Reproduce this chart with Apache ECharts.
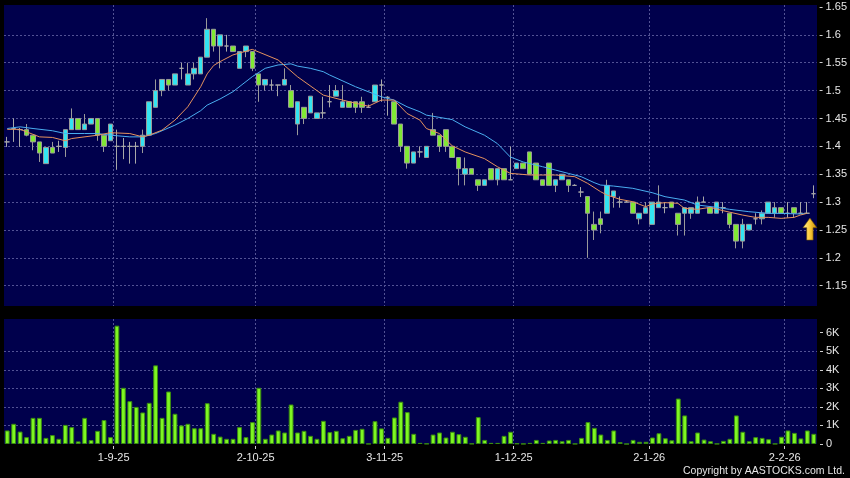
<!DOCTYPE html>
<html><head><meta charset="utf-8">
<script src="https://cdn.jsdelivr.net/npm/echarts@6/dist/echarts.min.js"></script>
<style>html,body{margin:0;padding:0;background:#000;}#c{width:850px;height:478px;}</style>
</head><body><div id="c"></div>
<script>
// [open, close, low, high]
const ohlc = [
[1.408,1.408,1.399,1.417],[1.432,1.432,1.408,1.450],[1.430,1.430,1.399,1.433],[1.430,1.420,1.418,1.440],
[1.420,1.408,1.393,1.420],[1.408,1.388,1.372,1.408],[1.369,1.398,1.369,1.398],[1.398,1.388,1.388,1.408],
[1.400,1.400,1.390,1.410],[1.398,1.430,1.381,1.430],[1.430,1.450,1.430,1.468],[1.450,1.430,1.430,1.450],
[1.430,1.440,1.430,1.458],[1.440,1.450,1.440,1.450],[1.450,1.420,1.410,1.450],[1.420,1.400,1.390,1.420],
[1.410,1.440,1.410,1.440],[1.400,1.400,1.358,1.430],[1.400,1.400,1.377,1.415],[1.400,1.400,1.369,1.408],
[1.400,1.400,1.369,1.408],[1.400,1.420,1.388,1.430],[1.420,1.480,1.420,1.480],[1.470,1.500,1.470,1.520],
[1.500,1.520,1.490,1.520],[1.520,1.510,1.500,1.520],[1.510,1.530,1.510,1.530],[1.540,1.540,1.520,1.550],
[1.510,1.530,1.510,1.550],[1.530,1.540,1.520,1.550],[1.530,1.560,1.530,1.560],[1.560,1.610,1.560,1.630],
[1.610,1.580,1.570,1.610],[1.580,1.600,1.540,1.600],[1.580,1.580,1.570,1.600],[1.580,1.570,1.570,1.580],
[1.540,1.570,1.540,1.570],[1.570,1.580,1.560,1.580],[1.570,1.540,1.535,1.570],[1.530,1.510,1.480,1.530],
[1.510,1.520,1.500,1.520],[1.510,1.510,1.500,1.520],[1.510,1.510,1.490,1.510],[1.510,1.520,1.510,1.540],
[1.500,1.470,1.470,1.510],[1.440,1.480,1.420,1.480],[1.470,1.450,1.440,1.470],[1.460,1.490,1.460,1.490],
[1.450,1.460,1.450,1.460],[1.460,1.460,1.450,1.489],[1.480,1.480,1.470,1.510],[1.490,1.500,1.490,1.510],
[1.470,1.480,1.470,1.510],[1.480,1.470,1.470,1.480],[1.480,1.470,1.460,1.480],[1.480,1.470,1.460,1.489],
[1.470,1.470,1.470,1.475],[1.480,1.510,1.480,1.510],[1.510,1.510,1.480,1.520],[1.488,1.488,1.455,1.490],
[1.480,1.440,1.440,1.480],[1.440,1.400,1.390,1.440],[1.400,1.370,1.360,1.400],[1.370,1.390,1.370,1.390],
[1.390,1.390,1.380,1.400],[1.380,1.400,1.380,1.400],[1.430,1.420,1.420,1.460],[1.420,1.400,1.390,1.420],
[1.430,1.400,1.390,1.430],[1.400,1.380,1.380,1.400],[1.380,1.360,1.330,1.380],[1.350,1.360,1.330,1.380],
[1.360,1.350,1.350,1.360],[1.340,1.330,1.320,1.340],[1.330,1.340,1.330,1.340],[1.360,1.340,1.340,1.360],
[1.340,1.360,1.330,1.360],[1.360,1.340,1.340,1.360],[1.340,1.340,1.340,1.400],[1.360,1.370,1.360,1.370],
[1.370,1.360,1.360,1.370],[1.390,1.350,1.350,1.390],[1.370,1.340,1.340,1.370],[1.340,1.330,1.330,1.340],
[1.370,1.330,1.330,1.370],[1.330,1.340,1.318,1.340],[1.340,1.350,1.340,1.350],[1.340,1.330,1.318,1.340],
[1.330,1.330,1.330,1.332],[1.318,1.318,1.309,1.327],[1.310,1.280,1.200,1.310],[1.260,1.250,1.232,1.283],
[1.270,1.260,1.244,1.283],[1.280,1.330,1.280,1.340],[1.310,1.320,1.290,1.320],[1.300,1.300,1.290,1.310],
[1.300,1.300,1.300,1.302],[1.300,1.280,1.280,1.300],[1.270,1.280,1.260,1.280],[1.280,1.290,1.280,1.300],
[1.260,1.300,1.260,1.300],[1.290,1.300,1.290,1.330],[1.290,1.290,1.280,1.300],[1.300,1.290,1.290,1.300],
[1.280,1.260,1.240,1.280],[1.280,1.290,1.240,1.290],[1.280,1.290,1.270,1.290],[1.280,1.300,1.280,1.310],
[1.300,1.300,1.300,1.310],[1.290,1.280,1.280,1.290],[1.280,1.300,1.280,1.300],[1.290,1.290,1.280,1.300],
[1.280,1.260,1.253,1.280],[1.260,1.230,1.217,1.260],[1.230,1.260,1.217,1.270],[1.250,1.260,1.250,1.260],
[1.270,1.270,1.260,1.280],[1.270,1.280,1.260,1.285],[1.280,1.300,1.280,1.300],[1.280,1.290,1.272,1.300],
[1.290,1.280,1.280,1.290],[1.280,1.280,1.272,1.300],[1.290,1.280,1.272,1.290],[1.280,1.280,1.280,1.300],
[1.280,1.280,1.280,1.300],[1.315,1.315,1.307,1.330]
];
const volume = [
730,1090,670,370,1410,1410,330,480,280,1030,910,140,1410,210,710,1290,370,6380,3030,2310,
2000,1700,2220,4240,1410,2830,1630,1000,1090,850,850,2200,550,400,280,280,910,370,1180,3030,
280,510,730,620,2130,620,710,440,280,1250,640,710,310,440,760,820,10,1230,840,330,
1430,2280,1720,550,60,20,510,620,350,660,530,390,20,1450,220,60,60,440,660,30,
10,60,220,60,190,220,150,220,10,330,1180,870,510,220,730,100,0,220,120,120,
350,580,310,200,2450,1540,150,620,240,150,10,170,280,1540,660,150,370,330,260,10,
390,730,600,300,730,550
];
// moving averages: [bar index, value]
const ma10 = [[0,1.4305],[2,1.4305],[3,1.426],[5,1.417],[7,1.416],[9,1.410],[10,1.414],[14,1.420],[16,1.4245],[19,1.423],[21,1.417],[22,1.420],[24,1.429],[26,1.447],[28,1.471],[30,1.507],[31,1.530],[32,1.545],[33,1.552],[35,1.564],[38,1.574],[42,1.555],[45,1.525],[49,1.492],[52,1.483],[56,1.472],[58,1.483],[60,1.483],[62,1.459],[64,1.447],[65,1.432],[67,1.423],[69,1.401],[71,1.390],[74,1.378],[76,1.3635],[78,1.3516],[81,1.3486],[85,1.3486],[88,1.3456],[90,1.3336],[92,1.3187],[93,1.3127],[95,1.305],[97,1.3007],[99,1.2918],[100,1.2966],[102,1.299],[104,1.2978],[105,1.2888],[107,1.287],[109,1.2906],[111,1.2846],[114,1.2768],[116,1.2726],[118,1.2726],[120,1.2708],[122,1.2726],[123,1.2768],[124,1.2798]];
const ma20 = [[0,1.432],[2,1.435],[4,1.432],[7,1.428],[9,1.423],[12,1.423],[14,1.423],[16,1.420],[19,1.417],[21,1.417],[23,1.423],[26,1.438],[28,1.450],[30,1.464],[31,1.474],[33,1.485],[35,1.498],[38,1.525],[40,1.540],[42,1.546],[44,1.548],[45,1.544],[47,1.540],[49,1.534],[50,1.528],[54,1.507],[58,1.489],[60,1.483],[62,1.471],[64,1.462],[65,1.456],[69,1.448],[71,1.435],[74,1.420],[76,1.405],[78,1.381],[80,1.372],[83,1.3635],[85,1.3575],[87,1.3515],[89,1.3456],[91,1.335],[92,1.3306],[94,1.3288],[97,1.3247],[100,1.3169],[102,1.3097],[105,1.3037],[107,1.2948],[110,1.2906],[112,1.287],[115,1.2828],[118,1.2798],[120,1.2798],[123,1.2786],[124,1.2798]];
const dateLabels = ['1-9-25','2-10-25','3-11-25','1-12-25','2-1-26','2-2-26'];
const dateEdges = [17,39,59,79,100,121];
const volTicks = [0,1000,2000,3000,4000,5000,6000];

const cats = ohlc.map((d,i)=>String(i));
const edges = []; for (let k=0;k<=ohlc.length;k++) edges.push('e'+k);
const isEdge = (idx)=>dateEdges.indexOf(idx)>=0;
const FONT = 'Liberation Sans, Arial, sans-serif';
const PANEL = '#00004c';
const GRIDC = '#5252946';
const dash = {color: '#525294', type:[2,2], width:1};

const chart = echarts.init(document.getElementById('c'), null, {renderer:'canvas'});
chart.setOption({
  animation:false,
  backgroundColor:'#000',
  title:{text:'Copyright by AASTOCKS.com Ltd.', right:5, top:466, padding:0,
    textStyle:{color:'#e6e6e6', fontSize:10.5, fontWeight:'normal', fontFamily:FONT}},
  grid:[
    {left:4, right:33, top:7, height:278.7},
    {left:4, right:33, top:319, height:125, show:true, backgroundColor:PANEL, borderWidth:0, z:-1},
    {left:4, right:33, top:5, height:301, show:true, backgroundColor:PANEL, borderWidth:0, z:-1}
  ],
  xAxis:[
    {type:'category', gridIndex:0, data:cats, boundaryGap:true, show:false},
    {type:'category', gridIndex:1, data:cats, boundaryGap:true, show:false, position:'top'},
    {type:'category', gridIndex:1, data:edges, boundaryGap:false, offset:2, position:'bottom',
      axisLine:{show:false},
      axisTick:{show:true, length:3, interval:(i)=>isEdge(i), lineStyle:{color:'#cfcfcf'}},
      axisLabel:{show:true, interval:(i)=>isEdge(i), margin:6, color:'#e6e6e6', fontSize:11, fontFamily:FONT,
        formatter:(v,i)=>{const k=dateEdges.indexOf(i); return k>=0?dateLabels[k]:'';}},
      splitLine:{show:true, interval:(i)=>isEdge(i), lineStyle:dash}},
    {type:'category', gridIndex:2, data:edges, boundaryGap:false,
      axisLine:{show:false}, axisTick:{show:false}, axisLabel:{show:false},
      splitLine:{show:true, interval:(i)=>isEdge(i), lineStyle:dash}}
  ],
  yAxis:[
    {type:'value', gridIndex:0, position:'right', min:1.15, max:1.65, interval:0.05, offset:3,
      axisLine:{show:false}, axisTick:{show:true, length:3, lineStyle:{color:'#cfcfcf'}},
      axisLabel:{color:'#e6e6e6', fontSize:11, fontFamily:FONT, margin:6},
      splitLine:{show:true, showMaxLine:false, lineStyle:dash}},
    {type:'value', gridIndex:1, position:'right', min:0, max:6739, interval:1000, offset:3,
      axisLine:{show:false}, axisTick:{show:true, length:3, customValues:volTicks, lineStyle:{color:'#cfcfcf'}},
      axisLabel:{color:'#e6e6e6', fontSize:11, fontFamily:FONT, margin:6, customValues:volTicks,
        formatter:(v)=>v===0?'0':(v/1000)+'K'},
      splitLine:{show:true, showMaxLine:false, showMinLine:false, lineStyle:dash}},
    {type:'value', gridIndex:2, min:0, max:1, show:false}
  ],
  series:[
    {type:'candlestick', xAxisIndex:0, yAxisIndex:0, data:ohlc, barWidth:5,
      itemStyle:{color:'#33e4f2', color0:'#80e834', borderColor:'#9a9a9a', borderColor0:'#9a9a9a', borderColorDoji:'#a8a8a8', borderWidth:1},
      markPoint:{silent:true, label:{show:false},
        data:[{coord:[124,1.2515], symbol:'path://M5,0 L10,7 L7.3,7 L7.3,16 L2.7,16 L2.7,7 L0,7 Z', symbolSize:[14,22], symbolOffset:[3,0],
          itemStyle:{color:new echarts.graphic.LinearGradient(0,0,1,0,[{offset:0,color:'#fff0a0'},{offset:0.45,color:'#ffd040'},{offset:1,color:'#c08400'}]), borderColor:'#6a4c00', borderWidth:0.6}}]}},
    {type:'line', xAxisIndex:0, yAxisIndex:0, data:ma20, symbol:'none', z:3,
      lineStyle:{color:'#4aaef0', width:1}},
    {type:'line', xAxisIndex:0, yAxisIndex:0, data:ma10, symbol:'none', z:3,
      lineStyle:{color:'#e5925e', width:1}},
    {type:'bar', xAxisIndex:1, yAxisIndex:1, data:volume, barWidth:4.8,
      itemStyle:{color:'#7ef622', borderColor:'#3a8c10', borderWidth:1}}
  ]
});
</script></body></html>
